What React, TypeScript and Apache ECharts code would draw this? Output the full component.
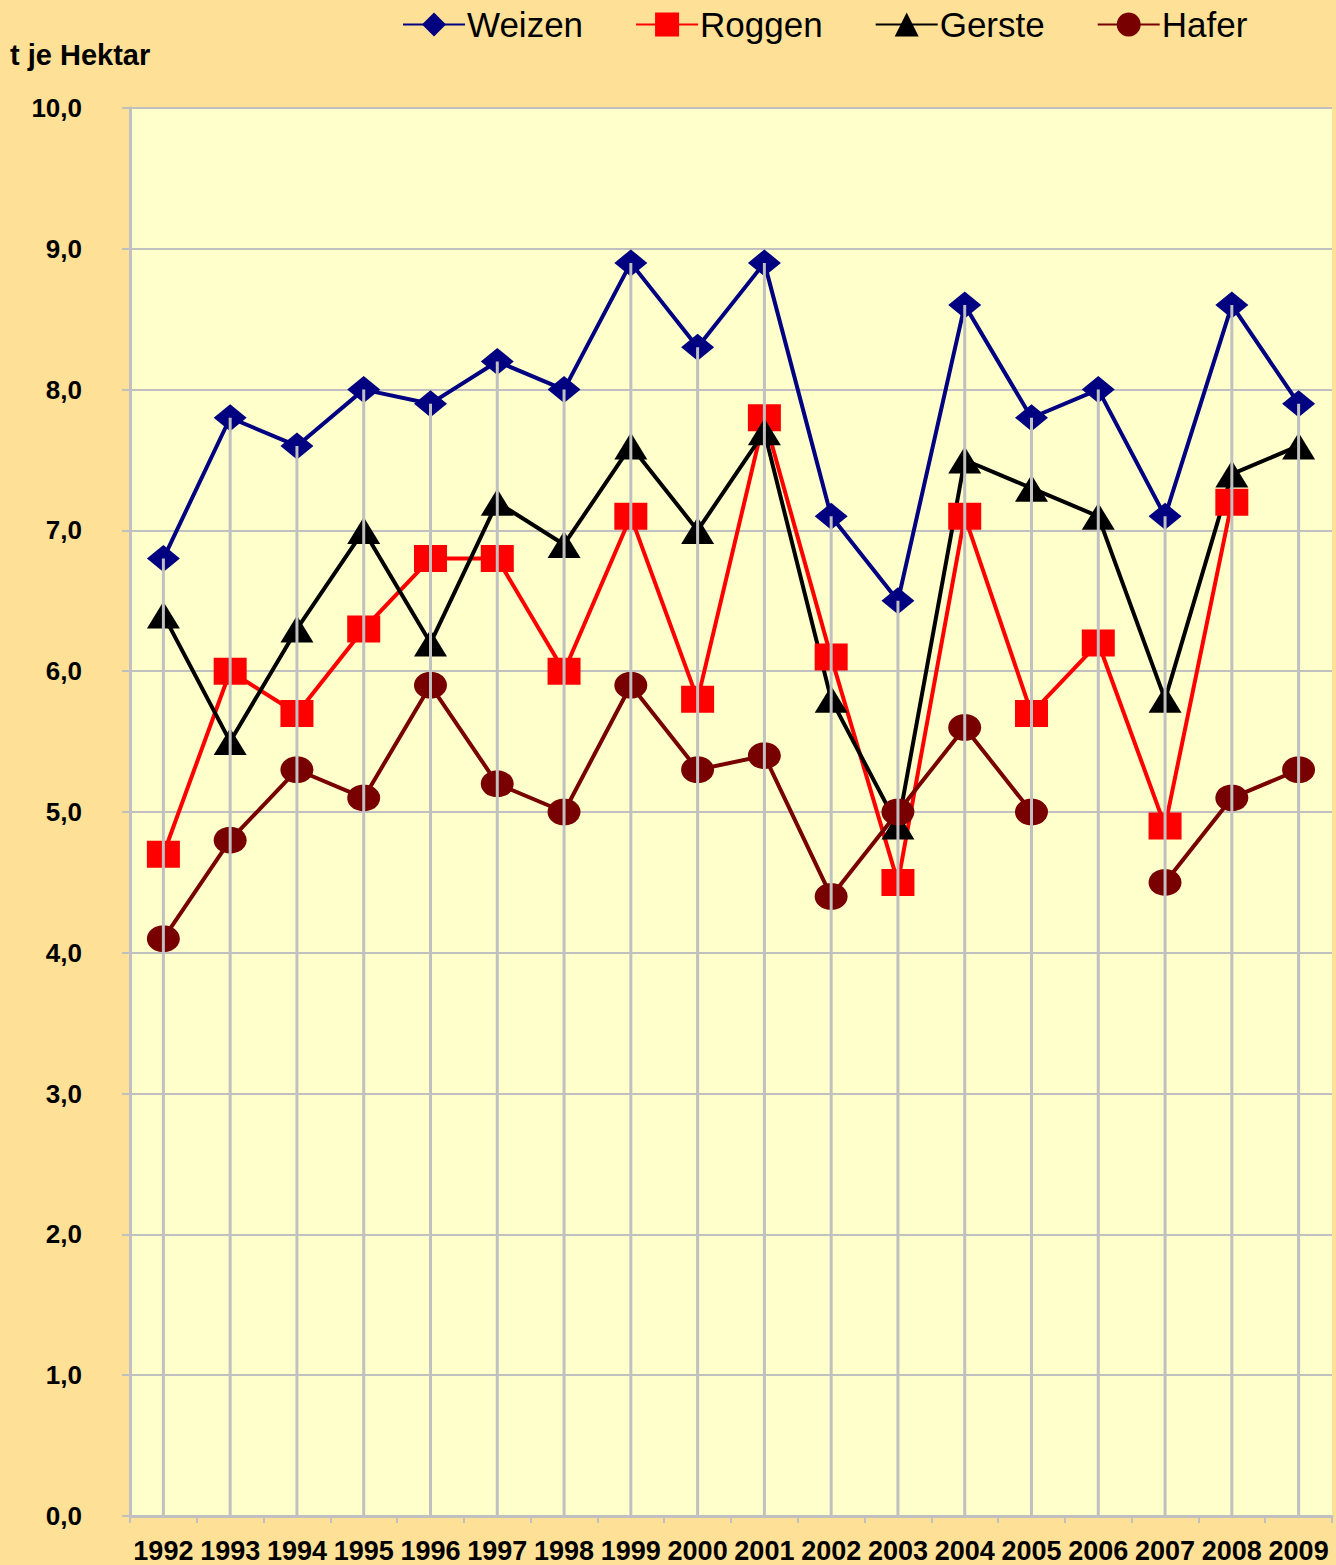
import React, { useEffect, useRef } from "react";
import * as echarts from "echarts";

const years = ["1992","1993","1994","1995","1996","1997","1998","1999","2000","2001","2002","2003","2004","2005","2006","2007","2008","2009"];
const weizen = [6.8, 7.8, 7.6, 8.0, 7.9, 8.2, 8.0, 8.9, 8.3, 8.9, 7.1, 6.5, 8.6, 7.8, 8.0, 7.1, 8.6, 7.9];
const roggen = [4.7, 6.0, 5.7, 6.3, 6.8, 6.8, 6.0, 7.1, 5.8, 7.8, 6.1, 4.5, 7.1, 5.7, 6.2, 4.9, 7.2, null];
const gerste = [6.4, 5.5, 6.3, 7.0, 6.2, 7.2, 6.9, 7.6, 7.0, 7.7, 5.8, 4.9, 7.5, 7.3, 7.1, 5.8, 7.4, 7.6];
const hafer = [4.1, 4.8, 5.3, 5.1, 5.9, 5.2, 5.0, 5.9, 5.3, 5.4, 4.4, 5.0, 5.6, 5.0, null, 4.5, 5.1, 5.3];
const seriesNames = ["Weizen", "Roggen", "Gerste", "Hafer"];
const yAxisTitle = "t je Hektar";

const FONT = "'Liberation Sans', Arial, sans-serif";

export default function App() {
  const ref = useRef<HTMLDivElement>(null);
  useEffect(() => {
    if (!ref.current) return;
    const chart = echarts.init(ref.current, null, { renderer: "svg" });
    const dropValues = years.map((_, i) =>
      Math.max(...([weizen[i], roggen[i], gerste[i], hafer[i]].filter((v) => v != null) as number[]))
    );
    const lineSeries = (name: string, data: (number | null)[], color: string, symbol: string, size: number[]) => ({
      name,
      type: "line",
      data,
      z: 2,
      symbol,
      symbolSize: size,
      connectNulls: false,
      lineStyle: { color, width: 4 },
      itemStyle: { color, borderWidth: 0 },
      emphasis: { disabled: true },
    });
    chart.setOption({
      animation: false,
      backgroundColor: "#FFE097",
      textStyle: { fontFamily: FONT },
      legend: {
        data: seriesNames,
        left: 397,
        top: 2,
        itemWidth: 62,
        itemHeight: 30,
        itemGap: 52,
        textStyle: { fontSize: 35, color: "#000", fontFamily: FONT, padding: [0, 0, 0, -3] },
      },
      graphic: [
        {
          type: "text",
          left: 10,
          top: 40,
          style: { text: yAxisTitle, font: `bold 29px ${FONT}`, fill: "#000" },
        },
      ],
      grid: {
        left: 130,
        top: 108,
        right: 4,
        bottom: 49,
        show: true,
        backgroundColor: "#FFFFCC",
        borderWidth: 0,
      },
      xAxis: {
        type: "category",
        data: years,
        boundaryGap: true,
        axisLine: { lineStyle: { color: "#C0C0C0", width: 3 } },
        axisTick: { show: true, length: 7, lineStyle: { color: "#C0C0C0", width: 2 } },
        axisLabel: { interval: 0, margin: 21, fontSize: 27, fontWeight: "bold", color: "#000", fontFamily: FONT },
        splitLine: { show: false },
      },
      yAxis: {
        type: "value",
        min: 0,
        max: 10,
        interval: 1,
        axisLine: { show: true, lineStyle: { color: "#C0C0C0", width: 3 } },
        axisTick: { show: true, length: 8, lineStyle: { color: "#C0C0C0", width: 2 } },
        axisLabel: {
          margin: 48,
          fontSize: 26,
          fontWeight: "bold",
          color: "#000",
          fontFamily: FONT,
          formatter: (v: number) => v.toFixed(1).replace(".", ","),
        },
        splitLine: { show: true, lineStyle: { color: "#C0C0C0", width: 2 } },
      },
      series: [
        lineSeries("Weizen", weizen, "#000080", "diamond", [33, 27]),
        lineSeries("Roggen", roggen, "#FF0000", "rect", [33, 27]),
        lineSeries("Gerste", gerste, "#000000", "triangle", [33, 27]),
        lineSeries("Hafer", hafer, "#780000", "circle", [33, 27]),
        {
          name: "drop",
          type: "bar",
          data: dropValues,
          barWidth: 3,
          z: 10,
          itemStyle: { color: "#C0C0C0" },
          emphasis: { disabled: true },
          silent: true,
        },
      ],
    });
    return () => chart.dispose();
  }, []);
  return (
    <div
      ref={ref}
      style={{ position: "absolute", left: 0, top: 0, width: 1336, height: 1565 }}
    />
  );
}
